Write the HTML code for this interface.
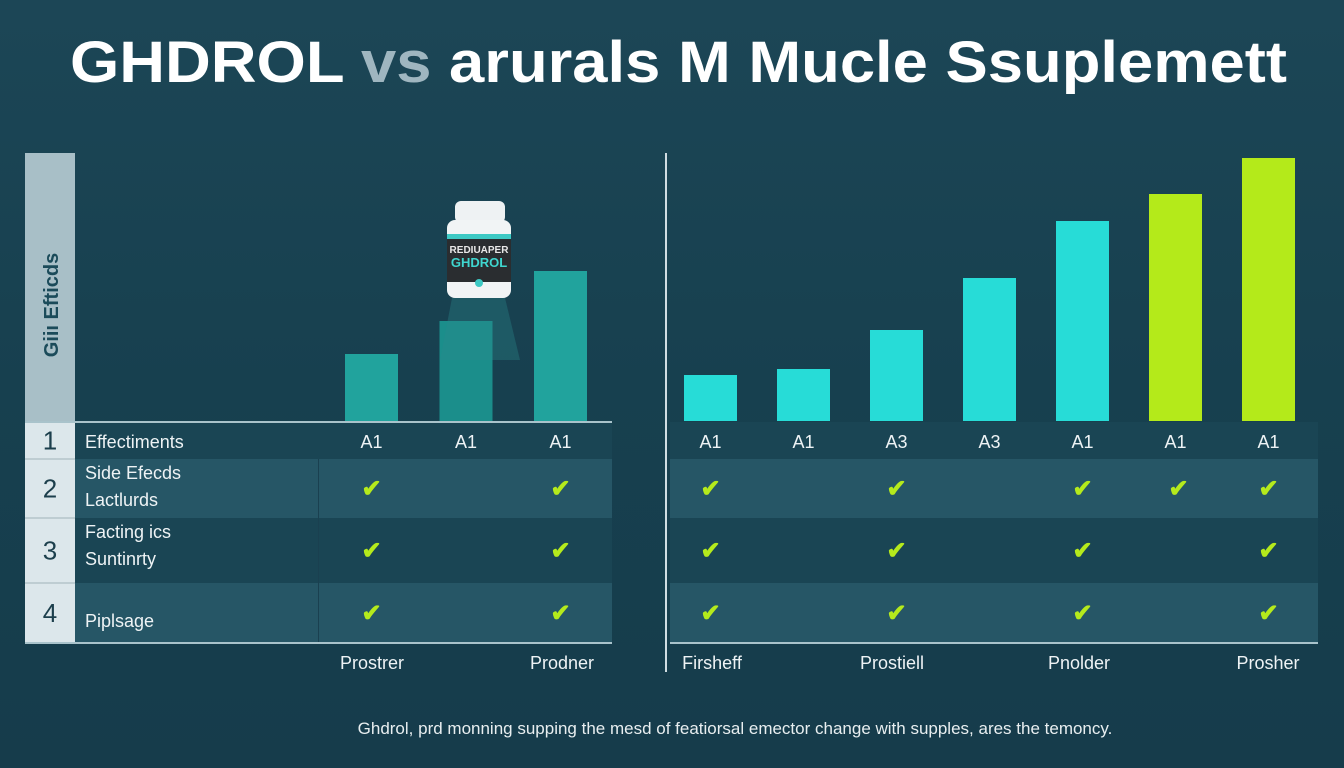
<!DOCTYPE html>
<html><head><meta charset="utf-8">
<style>
html,body{margin:0;padding:0;}
body{width:1344px;height:768px;overflow:hidden;background:linear-gradient(180deg,#1c4656 0%,#17404f 50%,#163c4b 100%);font-family:"Liberation Sans",sans-serif;}
svg{display:block;}
</style></head>
<body>
<svg id="chart" width="1344" height="768" xmlns="http://www.w3.org/2000/svg">
  <text x="70" y="82" textLength="1217" lengthAdjust="spacingAndGlyphs" font-family="Liberation Sans, sans-serif" font-weight="bold" font-size="58" fill="#ffffff">GHDROL <tspan fill="#9fb6c0">vs</tspan> arurals M Mucle Ssuplemett</text>
  <rect x="25" y="153" width="50" height="269" fill="#a8bfc7"/>
  <text transform="translate(58,305) rotate(-90)" text-anchor="middle" font-weight="bold" font-size="20" fill="#1b4b5a">Giiı Efticds</text>
  <g id="rows"></g>
  <g id="leftBars"></g>
  <g id="rightBars"></g>
  <g id="bottle">
    <polygon points="452,298 505,298 520,360 440,360" fill="#2a8a8c" opacity="0.35"/>
    <rect x="455" y="201" width="50" height="22" rx="6" fill="#eef2f3"/>
    <rect x="447" y="220" width="64" height="78" rx="8" fill="#f1f4f5"/>
    <rect x="447" y="234" width="64" height="48" fill="#2a2d30"/>
    <rect x="447" y="234" width="64" height="5" fill="#3dc9c4"/>
    <text x="479" y="253" text-anchor="middle" font-size="10" font-weight="bold" fill="#e8e8e8">REDIUAPER</text>
    <text x="479" y="267" text-anchor="middle" font-size="13" font-weight="bold" fill="#3fd6cf">GHDROL</text>
    <circle cx="479" cy="283" r="4" fill="#3dc9c4"/>
  </g>
  <line x1="666" y1="153" x2="666" y2="672" stroke="#d0dde2" stroke-width="2"/>
  <text x="735" y="734" text-anchor="middle" font-size="17" fill="#e8eef0">Ghdrol, prd monning supping the mesd of featiorsal emector change with supples, ares the temoncy.</text>
</svg>
<script>
const leftCategories = ["A1","A1","A1"];
const leftValues = [67, 100, 150];
const rightCategories = ["A1","A1","A3","A3","A1","A1","A1"];
const rightValues = [46, 52, 91, 143, 200, 227, 263];
const rightHighlight = [false,false,false,false,false,true,true];
const rowLabels = [["Effectiments"],["Side Efecds","Lactlurds"],["Facting ics","Suntinrty"],["Piplsage"]];
const leftChecks = [[false,false,false],[true,false,true],[true,false,true],[true,false,true]];
const rightChecks = [[false,false,false,false,false,false,false],[true,false,true,false,true,true,true],[true,false,true,false,true,false,true],[true,false,true,false,true,false,true]];
const bottomLabels = ["Prostrer","Prodner","Firsheff","Prostiell","Pnolder","Prosher"];

const NS="http://www.w3.org/2000/svg";
const baseY=421, yScale=v=>baseY-v*1.0;
const leftX=i=>371.5+i*94.5, rightX=i=>710.5+i*93;
const barW=53;
const rowTop=[422,459,518,583], rowH=[37,59,65,60];
function mk(tag,attrs,parent,text){const e=document.createElementNS(NS,tag);for(const k in attrs)e.setAttribute(k,attrs[k]);if(text!==undefined)e.textContent=text;parent.appendChild(e);return e;}

const rows=document.getElementById('rows');
rowTop.forEach((t,r)=>{
  const fill = r%2===1 ? "#265666" : "#1a4554";
  const a=mk('rect',{x:75,y:t,width:537,height:rowH[r],fill:fill},rows);
  
  
  const b=mk('rect',{x:670,y:t,width:648,height:rowH[r],fill:fill},rows);
  
  
  const n=mk('rect',{x:25,y:t,width:50,height:rowH[r],fill:"#dce7eb"},rows);
  
  
  mk('line',{x1:25,y1:t,x2:75,y2:t,stroke:"#9fb3ba","stroke-width":1},rows);
  const nt=mk('text',{x:50,y:t+rowH[r]/2+9,"text-anchor":"middle","font-size":26,fill:"#1c3f4c"},rows,String(r+1));
  
  
  const lines=rowLabels[r];
  lines.forEach((s,j)=>{
    let y = lines.length===1 ? (r===3? t+44 : t+26) : t+20+j*27;
    const lt=mk('text',{x:85,y:y,"font-size":18,fill:"#eef3f5"},rows,s);
    
    
  });
  const cy=t+rowH[r]/2+ (r===0?7:0);
  leftChecks[r].forEach((c,i)=>{ if(c){const ck=mk('text',{x:leftX(i),y:cy+8,"text-anchor":"middle","font-size":24,"font-weight":"bold",fill:"#b5ea1c"},rows,"✔");
    
    }});
  rightChecks[r].forEach((c,i)=>{ if(c){const ck=mk('text',{x:rightX(i)+(i===5?3:0),y:cy+8,"text-anchor":"middle","font-size":24,"font-weight":"bold",fill:"#b5ea1c"},rows,"✔");
    
    }});
});
mk('rect',{x:318,y:459,width:1,height:184,fill:"#1a4050"},rows);
mk('line',{x1:25,y1:422,x2:612,y2:422,stroke:"#a9c3cb","stroke-width":2},rows);
mk('line',{x1:25,y1:643,x2:612,y2:643,stroke:"#a9c3cb","stroke-width":2},rows);
mk('line',{x1:670,y1:643,x2:1318,y2:643,stroke:"#a9c3cb","stroke-width":2},rows);

const lb=document.getElementById('leftBars');
leftValues.forEach((v,i)=>{
  const r=mk('rect',{x:leftX(i)-barW/2,y:yScale(v),width:barW,height:baseY-yScale(v),fill:i===1?"#1b8e8b":"#21a39d"},lb);
  
  
  const t=mk('text',{x:leftX(i),y:448,"text-anchor":"middle","font-size":18,fill:"#eef3f5"},lb,leftCategories[i]);
  
  
});
const rb=document.getElementById('rightBars');
rightValues.forEach((v,i)=>{
  const r=mk('rect',{x:rightX(i)-barW/2,y:yScale(v),width:barW,height:baseY-yScale(v),fill:rightHighlight[i]?"#b4ea1a":"#27dcd7"},rb);
  
  
  const t=mk('text',{x:rightX(i),y:448,"text-anchor":"middle","font-size":18,fill:"#eef3f5"},rb,rightCategories[i]);
  
  
});
const bx=[372,562,712,892,1079,1268];
bottomLabels.forEach((s,i)=>{
  const t=mk('text',{x:bx[i],y:669,"text-anchor":"middle","font-size":18,fill:"#eef3f5"},rb,s);
  
  
});
</script>
</body></html>
